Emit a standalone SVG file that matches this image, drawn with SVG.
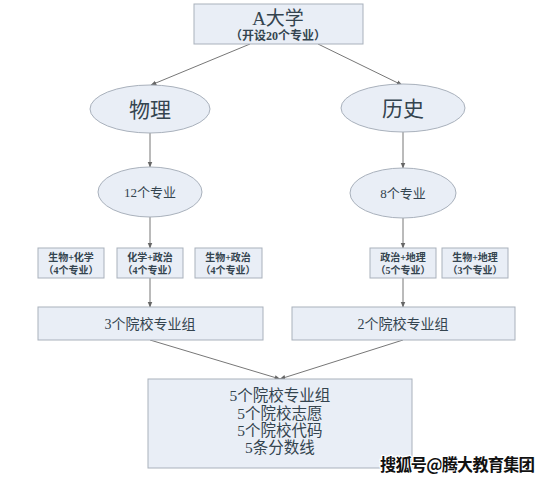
<svg xmlns="http://www.w3.org/2000/svg" width="550" height="481" viewBox="0 0 550 481">
<defs>
<marker id="arr" viewBox="0 0 10 10" refX="9" refY="5" markerWidth="6" markerHeight="6" orient="auto-start-reverse" markerUnits="userSpaceOnUse">
<path d="M0,1 L10,5 L0,9 z" fill="#666"/>
</marker>
<style>
.box{fill:#e9eef6;stroke:#a9b1bc;stroke-width:1}
.t{font-family:"Liberation Serif","Noto Sans CJK SC",serif;fill:#34444f;text-anchor:middle;dominant-baseline:central}
.b{font-weight:bold}
.s{font-size:10px}
.c{stroke:#777;stroke-width:1;fill:none;marker-end:url(#arr)}
</style>
</defs>
<rect width="550" height="481" fill="#ffffff"/>
<g id="connectors">
<line class="c" x1="250" y1="44" x2="151" y2="85"/>
<line class="c" x1="318" y1="44" x2="402" y2="85"/>
<line class="c" x1="150" y1="133" x2="150" y2="167"/>
<line class="c" x1="403" y1="132" x2="403" y2="168"/>
<line class="c" x1="150" y1="217" x2="150" y2="248"/>
<line class="c" x1="403" y1="218" x2="403" y2="248"/>
<line class="c" x1="150" y1="278" x2="150" y2="307"/>
<line class="c" x1="403" y1="278" x2="403" y2="307"/>
<line class="c" x1="150" y1="340" x2="280" y2="379"/>
<line class="c" x1="403" y1="340" x2="280" y2="379"/>
</g>
<g id="univ">
<rect class="box" x="194" y="4" width="169" height="40"/>
<text class="t" x="278" y="18" font-size="19">A大学</text>
<text class="t b" x="278" y="36" font-size="12">（开设20个专业）</text>
</g>
<g id="physics">
<ellipse class="box" cx="150" cy="109" rx="60" ry="24"/>
<text class="t" x="150" y="110" font-size="21">物理</text>
</g>
<g id="history">
<ellipse class="box" cx="403" cy="108" rx="62" ry="24"/>
<text class="t" x="403" y="109" font-size="21">历史</text>
</g>
<g id="phys12">
<ellipse class="box" cx="150" cy="192" rx="52" ry="25"/>
<text class="t" x="150" y="192" font-size="13">12个专业</text>
</g>
<g id="hist8">
<ellipse class="box" cx="403" cy="193" rx="53" ry="25"/>
<text class="t" x="403" y="193" font-size="13">8个专业</text>
</g>
<g id="bio-chem">
<rect class="box" x="38" y="248" width="66" height="30"/>
<text class="t b s" x="71" y="257">生物+化学</text>
<text class="t b s" x="71" y="270">（4个专业）</text>
</g>
<g id="chem-pol">
<rect class="box" x="117" y="248" width="66" height="30"/>
<text class="t b s" x="150" y="257">化学+政治</text>
<text class="t b s" x="150" y="270">（4个专业）</text>
</g>
<g id="bio-pol">
<rect class="box" x="195" y="248" width="67" height="30"/>
<text class="t b s" x="228" y="257">生物+政治</text>
<text class="t b s" x="228" y="270">（4个专业）</text>
</g>
<g id="pol-geo">
<rect class="box" x="370" y="248" width="66" height="30"/>
<text class="t b s" x="403" y="257">政治+地理</text>
<text class="t b s" x="403" y="270">（5个专业）</text>
</g>
<g id="bio-geo">
<rect class="box" x="442" y="248" width="66" height="30"/>
<text class="t b s" x="475" y="257">生物+地理</text>
<text class="t b s" x="475" y="270">（3个专业）</text>
</g>
<g id="groups3">
<rect class="box" x="38" y="307" width="225" height="33"/>
<text class="t" x="150" y="324" font-size="14">3个院校专业组</text>
</g>
<g id="groups2">
<rect class="box" x="292" y="307" width="223" height="33"/>
<text class="t" x="403" y="324" font-size="14">2个院校专业组</text>
</g>
<g id="summary">
<rect class="box" x="148" y="379" width="264" height="89"/>
<text class="t" x="280" y="395" font-size="15.5">5个院校专业组</text>
<text class="t" x="280" y="413" font-size="15.5">5个院校志愿</text>
<text class="t" x="280" y="430" font-size="15.5">5个院校代码</text>
<text class="t" x="280" y="447" font-size="15.5">5条分数线</text>
</g>
<text x="380" y="471" font-family="'Noto Sans CJK SC',sans-serif" font-size="16.5" font-weight="bold" fill="#111" stroke="#fff" stroke-width="2.5" paint-order="stroke" textLength="155">搜狐号@腾大教育集团</text>
</svg>
